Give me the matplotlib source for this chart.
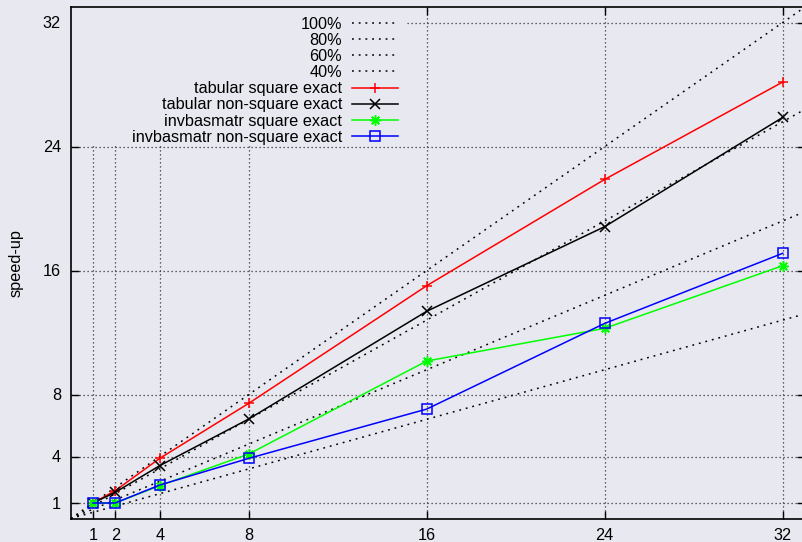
import matplotlib
matplotlib.use("Agg")
import matplotlib.pyplot as plt
from matplotlib.patches import Rectangle


BG_COLOR = "#e8e8f0"
GRID_STYLE = (0, (1, 2.2))

X_RANGE = (0, 33)
Y_RANGE = (0, 33)
X_TICKS = [1, 2, 4, 8, 16, 24, 32]
Y_TICKS = [1, 4, 8, 16, 24, 32]

# ideal speed-up reference lines
EFFICIENCY_LEVELS = [1.0, 0.8, 0.6, 0.4]
EFFICIENCY_LABELS = ["100%", "80%", "60%", "40%"]

THREADS = [1, 2, 4, 8, 16, 24, 32]
TABULAR_SQUARE = [1.0, 1.8, 3.88, 7.43, 15.02, 21.88, 28.16]
TABULAR_NON_SQUARE = [1.0, 1.69, 3.41, 6.42, 13.37, 18.83, 25.88]
INVBASMATR_SQUARE = [1.0, 1.0, 2.12, 4.16, 10.16, 12.27, 16.31]
INVBASMATR_NON_SQUARE = [1.0, 1.0, 2.16, 3.88, 7.06, 12.59, 17.11]

SERIES_LABELS = [
    "tabular square exact",
    "tabular non-square exact",
    "invbasmatr square exact",
    "invbasmatr non-square exact",
]
SERIES_COLORS = ["#ff0000", "#000000", "#00ff00", "#0000ff"]
SERIES_MARKERS = ["+", "x", (8, 2, 0), "s"]
SERIES_MARKER_SIZES = [6.5, 6.5, 7.5, 6.5]

FONT_SIZE = 11.7


def setup_axes(fig):
    ax = fig.add_axes([70.75 / 802, 23.5 / 542, 734.25 / 802, 511.5 / 542])
    ax.set_facecolor(BG_COLOR)
    ax.set_xlim(*X_RANGE)
    ax.set_ylim(*Y_RANGE)
    ax.set_xticks(X_TICKS)
    ax.set_yticks(Y_TICKS)
    ax.tick_params(direction="in", length=6, width=1, top=True, right=True,
                   labelsize=FONT_SIZE, colors="black")
    ax.tick_params(axis="x", pad=7)
    ax.tick_params(axis="y", pad=7)
    for spine in ax.spines.values():
        spine.set_linewidth(1.2)
    ax.set_axisbelow(True)
    ax.grid(True, color="#333333", linestyle=GRID_STYLE, linewidth=0.9)
    ax.set_ylabel("speed-up", fontsize=FONT_SIZE, labelpad=14)
    return ax


def plot_reference_lines(ax):
    handles = []
    for level, label in zip(EFFICIENCY_LEVELS, EFFICIENCY_LABELS):
        xs = list(X_RANGE)
        ys = [x * level for x in xs]
        line, = ax.plot(xs, ys, color="black", linestyle=(0, (1.2, 3.2)),
                        linewidth=1.1, label=label, zorder=2)
        handles.append(line)
    return handles


def plot_series(ax):
    handles = []
    all_values = [TABULAR_SQUARE, TABULAR_NON_SQUARE, INVBASMATR_SQUARE, INVBASMATR_NON_SQUARE]
    styles = zip(all_values, SERIES_LABELS, SERIES_COLORS, SERIES_MARKERS, SERIES_MARKER_SIZES)
    for values, label, color, marker, size in styles:
        line, = ax.plot(THREADS, values, color=color, marker=marker, markersize=size,
                        markeredgewidth=1.1, markerfacecolor="none", linewidth=1.1,
                        label=label, zorder=3, clip_on=False)
        handles.append(line)
    return handles


def main():
    plt.rcParams["font.family"] = ["Liberation Sans", "DejaVu Sans"]
    fig = plt.figure(figsize=(8.02, 5.42), dpi=100, facecolor=BG_COLOR)
    ax = setup_axes(fig)

    # opaque key area that hides the grid behind it
    key_box = Rectangle((0, 0.728), 0.455, 0.272, transform=ax.transAxes,
                        facecolor=BG_COLOR, edgecolor="none", zorder=1)
    ax.add_patch(key_box)

    handles = plot_reference_lines(ax) + plot_series(ax)
    ax.legend(handles=handles, loc="upper right", bbox_to_anchor=(0.4457, 0.981),
              frameon=False, markerfirst=False, fontsize=FONT_SIZE, handlelength=2.85,
              handletextpad=0.6, labelspacing=0.07, borderpad=0, borderaxespad=0)

    fig.savefig("out.png", dpi=100, facecolor=BG_COLOR)


if __name__ == "__main__":
    main()
